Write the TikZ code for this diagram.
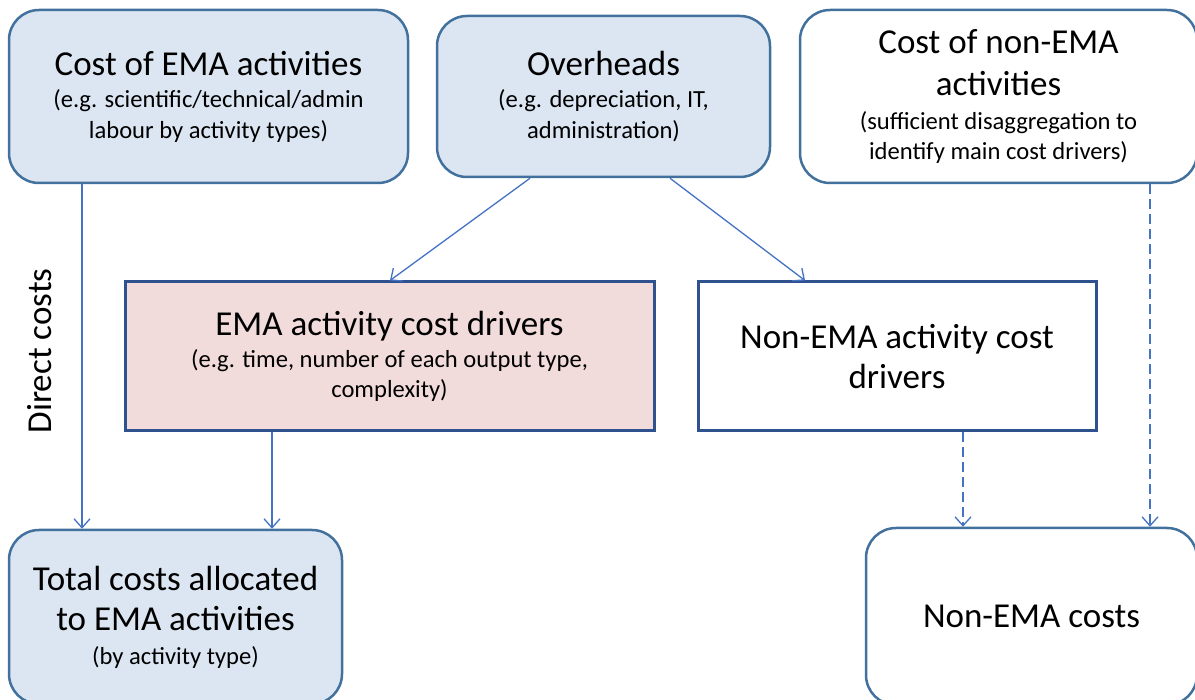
\documentclass[tikz,border=0pt]{standalone}
\usepackage{fontspec}
\setmainfont{Carlito}
\usetikzlibrary{arrows.meta}
\definecolor{bluefill}{HTML}{DCE6F2}
\definecolor{blueedge}{HTML}{41719C}
\definecolor{pinkfill}{HTML}{F2DCDB}
\definecolor{darkedge}{HTML}{2F528F}
\definecolor{arrowc}{HTML}{4472C4}
\newcommand\bigtxt{\fontsize{35}{41}\selectfont}
\newcommand\smtxt{\fontsize{24.6}{30.5}\selectfont}
\tikzset{
  rbox/.style={draw=blueedge, line width=2.5pt, rounded corners=30pt, align=center, inner sep=0pt, font=\smtxt},
  sbox/.style={draw=darkedge, line width=3pt, align=center, inner sep=0pt, font=\smtxt},
  conn/.style={draw=arrowc, line width=1.3pt, -{Straight Barb[length=9pt,width=16pt]}},
  dconn/.style={conn, dash pattern=on 10pt off 5pt},
}
\begin{document}
\begin{tikzpicture}[x=1pt,y=-1pt]
\useasboundingbox (0,0) rectangle (1195,700);
\node[rbox, fill=bluefill, minimum width=399pt, minimum height=173pt] (cema) at (208.5,96.5)
  {\bigtxt Cost of EMA activities\\[2pt]\smtxt (e.g. scientific/technical/admin\\\smtxt labour by activity types)};
\node[rbox, fill=bluefill, minimum width=333pt, minimum height=161pt] (over) at (603.5,96.5)
  {\bigtxt Overheads\\[2pt]\smtxt (e.g. depreciation, IT,\\\smtxt administration)};
\node[rbox, fill=white, minimum width=397pt, minimum height=173pt] (cnon) at (998.5,96.5)
  {\bigtxt Cost of non-EMA\\[11pt]\bigtxt activities\\[4pt]\smtxt (sufficient disaggregation to\\[-1pt]\smtxt identify main cost drivers)};
\node[sbox, fill=pinkfill, minimum width=529pt, minimum height=149pt] (edrv) at (389.5,356.5)
  {\bigtxt EMA activity cost drivers\\[1pt]\smtxt (e.g. time, number of each output type,\\\smtxt complexity)};
\node[sbox, fill=white, minimum width=398pt, minimum height=149pt] (ndrv) at (897,356.5)
  {\bigtxt Non-EMA activity cost\\[10pt]\bigtxt drivers};
\node[rbox, fill=bluefill, minimum width=333pt, minimum height=174pt] (tot) at (175.5,617)
  {\bigtxt Total costs allocated\\[10pt]\bigtxt to EMA activities\\[3pt]\smtxt (by activity type)};
\node[rbox, fill=white, minimum width=331pt, minimum height=177pt, text height=42pt, text depth=21pt] (ncost) at (1031.5,616.5)
  {\bigtxt Non-EMA costs};
\node[rotate=90, font=\bigtxt] (dc) at (40,351) {Direct costs};
\draw[conn] (cema.south -| 82,0) -- (tot.north -| 82,0);
\draw[conn] (edrv.south -| 272,0) -- (tot.north -| 272,0);
\draw[conn] (over.south -| 530,0) -- (edrv.north -| 390,0);
\draw[conn] (over.south -| 670,0) -- (ndrv.north -| 805,0);
\draw[dconn] (ndrv.south -| 963,0) -- (ncost.north -| 963,0);
\draw[dconn] (cnon.south -| 1150,0) -- (ncost.north -| 1150,0);
\end{tikzpicture}
\end{document}
